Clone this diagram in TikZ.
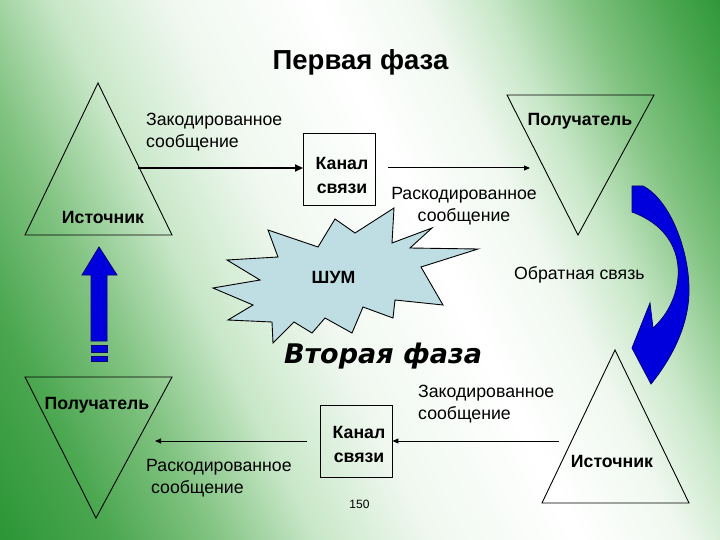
\documentclass[tikz,border=0pt]{standalone}
\usepackage{fontspec}
\setmainfont{Liberation Sans}
\newfontfamily\vfont{DejaVu Sans}
\usetikzlibrary{arrows.meta}
\definecolor{gA}{RGB}{45,150,55}
\definecolor{gB}{RGB}{75,167,80}
\definecolor{gC}{RGB}{130,195,130}
\definecolor{gD}{RGB}{200,231,200}
\definecolor{gE}{RGB}{240,248,240}
\definecolor{starfill}{RGB}{190,222,228}
\definecolor{bluefill}{RGB}{0,0,220}
\definecolor{blueedge}{RGB}{0,0,120}
\pgfdeclarehorizontalshading{bgshade}{100bp}{color(0bp)=(gA); color(16.6bp)=(gA); color(24bp)=(gB); color(31bp)=(gC); color(38bp)=(gD); color(46bp)=(gE); color(56bp)=(white); color(63bp)=(gE); color(68bp)=(gD); color(74bp)=(gC); color(80bp)=(gB); color(84bp)=(gA); color(100bp)=(gA)}
\begin{document}
\begin{tikzpicture}[x=1pt,y=-1pt,
  tri/.style={draw=black, line width=0.9pt, line join=miter},
  box/.style={draw=black, line width=0.9pt, minimum width=72pt, minimum height=72pt, inner sep=0pt},
  lbl/.style={font=\fontsize{17.7}{22}\selectfont, inner sep=0pt},
  bl/.style={font=\fontsize{17.7}{24}\selectfont\bfseries, inner sep=0pt},
  thickarrow/.style={line width=1.8pt, -{Triangle[length=8pt,width=7pt]}},
  thinarrow/.style={line width=1pt, -{Triangle[length=6pt,width=5pt]}},
  bluearrow/.style={fill=bluefill, draw=blueedge, line width=0.8pt, line join=miter}]
\useasboundingbox (0,0) rectangle (720,540);
\shade[shading=bgshade, shading angle=26] (0,0) rectangle (720,540);

% titles
\node[inner sep=0pt, font=\fontsize{27.5}{30}\selectfont\bfseries] (t1) at (360.5,62) {Первая фаза};
\node[inner sep=0pt, font=\vfont\fontsize{27}{30}\selectfont\bfseries\itshape] (t2) at (383,356) {Вторая фаза};

% triangles
\draw[tri] (98,83) -- (172,235) -- (25,235) -- cycle;
\draw[tri] (507,95) -- (654,95) -- (578,235) -- cycle;
\draw[tri] (25,377) -- (172,377) -- (96,518) -- cycle;
\draw[tri] (615,350) -- (689,503) -- (542,503) -- cycle;

\node[bl] (src1) at (103,217) {Источник};
\node[bl] (rcv1) at (580,121) {Получатель};
\node[bl] (rcv2) at (97,405) {Получатель};
\node[bl] (src2) at (612,461) {Источник};

% channel boxes
\node[box] (box1) at (339.5,169) {};
\node[bl, align=center] (k1) at (342,175) {Канал\\связи};
\node[box] (box2) at (356,441) {};
\node[bl, align=center] (k2) at (359,444) {Канал\\связи};

% arrows phase 1
\coordinate (a1s) at (138,168);
\draw[thickarrow] (a1s) -- (box1.west |- a1s);
\coordinate (a2s) at (388,168);
\coordinate (a2e) at (530,168);
\draw[thinarrow] (a2s) -- (a2e);

% arrows phase 2
\coordinate (b1s) at (559,441);
\draw[thinarrow] (b1s) -- (box2.east |- b1s);
\coordinate (b2s) at (307,441);
\coordinate (b2e) at (155,441);
\draw[thinarrow] (b2s) -- (b2e);

% message labels
\node[lbl, anchor=west, align=left] (enc1) at (146,132) {Закодированное\\сообщение};
\node[lbl, align=center] (dec1) at (464,206) {Раскодированное\\сообщение};
\node[lbl, anchor=west, align=left] (enc2) at (418,404) {Закодированное\\сообщение};
\node[lbl, anchor=west, align=left] (dec2) at (146,478) {Раскодированное\\\ сообщение};
\node[lbl, anchor=west] (fb) at (514,274.5) {Обратная связь};
\node[inner sep=0pt, font=\fontsize{12}{14}\selectfont] (pg) at (359.5,504) {150};

% noise star
\draw[fill=starfill, draw=black, line width=0.9pt, line join=miter]
  (335,219) -- (355,233) -- (394,208) -- (392,243) -- (432,228) -- (410,248) --
  (478,249) -- (421,267) -- (443,305) -- (395,300) -- (393,318) -- (363,307) --
  (352,333) -- (325,318) -- (312,333) -- (294,322) -- (273,343) -- (272,322) --
  (228,320) -- (253,305) -- (213,288) -- (260,280) -- (227,260) -- (278,257) --
  (268,230) -- (318,247) -- cycle;
\node[bl] (noise) at (333.5,277) {ШУМ};

% blue straight arrow
\draw[bluearrow] (99,247) -- (117,275) -- (107,275) -- (107,341) -- (91,341) -- (91,275) -- (82,275) -- cycle;
\draw[bluearrow] (91,345) rectangle (107,352);
\draw[bluearrow] (91,356) rectangle (107,361);

% blue curved arrow
\draw[bluearrow] (632,186) -- (643,186)
  .. controls (670,200) and (689,250) .. (689,290)
  .. controls (689,325) and (672,358) .. (651,384)
  -- (632,348) -- (650,303) -- (653,328)
  .. controls (685,300) and (695,235) .. (632,212) -- cycle;
\end{tikzpicture}
\end{document}
